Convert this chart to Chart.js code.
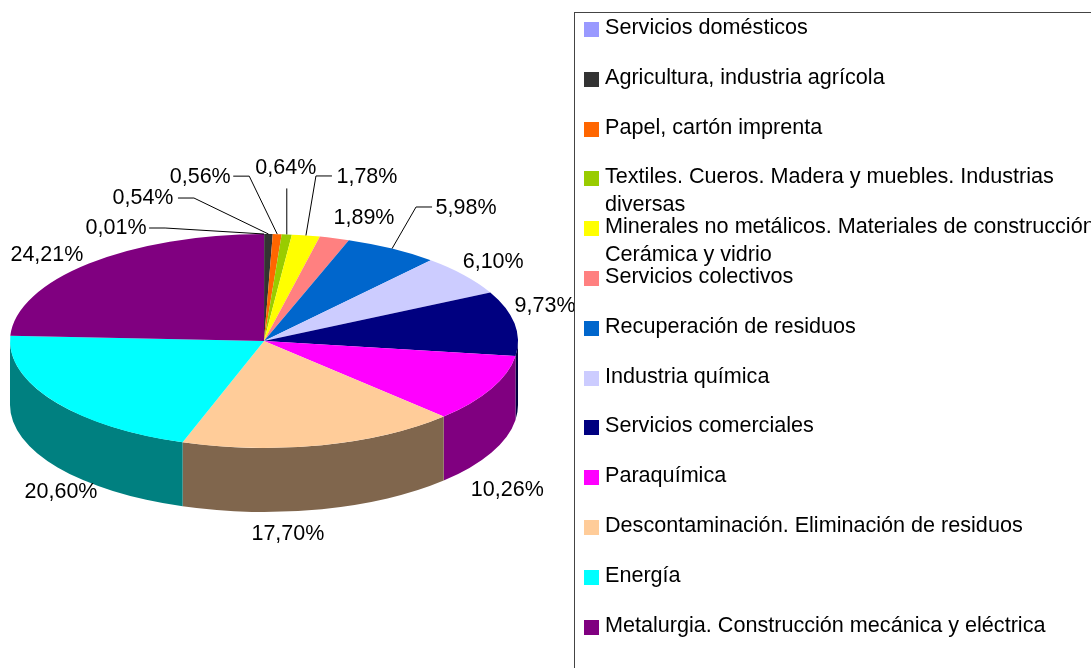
<!DOCTYPE html>
<html>
<head>
<meta charset="utf-8">
<script src="https://cdn.jsdelivr.net/npm/chart.js@4"></script>
<style>
    html, body { margin: 0; padding: 0; background: #fff; overflow: hidden; }
    #wrap { position: relative; width: 1091px; height: 668px; overflow: hidden; }
    #legendBox {
        position: absolute; left: 574px; top: 12px; width: 600px; height: 700px;
        border: 1px solid #444; box-sizing: border-box;
    }
    .row { position: absolute; left: 9px; white-space: nowrap; color: #000;
        font: 21.6px/28px "Liberation Sans", Arial, sans-serif; }
    .row i { position: absolute; left: 0; top: 9px; width: 15px; height: 15px; }
    .row span { display: block; margin-left: 21px; }
</style>
</head>
<body>
<div id="wrap">
    <canvas id="chart" width="1091" height="668"></canvas>
    <div id="legendBox"></div>
</div>
<script>
const categories = [
    'Servicios domésticos',
    'Agricultura, industria agrícola',
    'Papel, cartón imprenta',
    'Textiles. Cueros. Madera y muebles. Industrias\ndiversas',
    'Minerales no metálicos. Materiales de construcción.\nCerámica y vidrio',
    'Servicios colectivos',
    'Recuperación de residuos',
    'Industria química',
    'Servicios comerciales',
    'Paraquímica',
    'Descontaminación. Eliminación de residuos',
    'Energía',
    'Metalurgia. Construcción mecánica y eléctrica',
];
const shares = [0.01, 0.54, 0.56, 0.64, 1.78, 1.89, 5.98, 6.10, 9.73, 10.26, 17.70, 20.60, 24.21];
const colors = ['#9999FF', '#333333', '#FF6600', '#99CC00', '#FFFF00', '#FF8080', '#0066CC',
    '#CCCCFF', '#000080', '#FF00FF', '#FFCC99', '#00FFFF', '#800080'];
const sideColors = ['#4D4D80', '#1A1A1A', '#803300', '#4D6600', '#808000', '#804040', '#003366',
    '#666680', '#000040', '#800080', '#80664D', '#008080', '#400040'];

// label centre, relative to the point of the rim at the middle of the slice
const labelOffsets = [[-148, -6], [-125.5, -36], [-77, -57], [-1, -66], [61, -58.5], [29.5, -20],
    [74, -40.6], [29, -13], [30.5, -17], [16, 101], [-34, 89], [7, 91], [-42, -8.5]];
// leader lines: rim -> elbow -> end at the label, same reference point
const leaders = [
    [[-99, -6], [-115, -6]],
    [[-74.5, -36], [-90.5, -36]],
    [[-28, -58], [-44, -58]],
    [[0, -46], [0, -46]],
    [[10, -59.5], [26, -59.5]],
    null,
    [[24, -41.6], [40, -41.6]],
    null, null, null, null, null, null,
];

const SQUASH = 107 / 254;
const DEPTH = 64;
const FONT = '21.5px "Liberation Sans", Arial, sans-serif';

function flatten(ctx, x, y) {
    ctx.translate(x, y);
    ctx.scale(1, SQUASH);
    ctx.translate(-x, -y);
}

const pie3d = {
    id: 'pie3d',
    beforeDatasetsDraw(chart) {
        const ctx = chart.ctx;
        const arcs = chart.getDatasetMeta(0).data;
        const { x, y, outerRadius } = arcs[0];
        const ry = outerRadius * SQUASH;
        // side wall: only what is on the front half of the ellipse
        ctx.save();
        arcs.forEach((arc, i) => {
            const from = Math.max(arc.startAngle, 0);
            const to = Math.min(arc.endAngle, Math.PI);
            if (to <= from) return;
            ctx.beginPath();
            ctx.ellipse(x, y, outerRadius, ry, 0, from, to);
            ctx.ellipse(x, y + DEPTH, outerRadius, ry, 0, to, from, true);
            ctx.closePath();
            ctx.fillStyle = sideColors[i];
            ctx.fill();
        });
        ctx.restore();
        ctx.save();
        flatten(ctx, x, y);
    },
    afterDatasetsDraw(chart) {
        const ctx = chart.ctx;
        ctx.restore();
        const arcs = chart.getDatasetMeta(0).data;
        ctx.save();
        ctx.font = FONT;
        ctx.fillStyle = '#000';
        ctx.strokeStyle = '#000';
        ctx.lineWidth = 1;
        ctx.textAlign = 'center';
        ctx.textBaseline = 'middle';
        arcs.forEach((arc, i) => {
            const mid = (arc.startAngle + arc.endAngle) / 2;
            const ax = arc.x + arc.outerRadius * Math.cos(mid);
            const ay = arc.y + arc.outerRadius * SQUASH * Math.sin(mid);
            if (leaders[i]) {
                ctx.beginPath();
                ctx.moveTo(ax, ay);
                leaders[i].forEach(p => ctx.lineTo(ax + p[0], ay + p[1]));
                ctx.stroke();
            }
            const text = shares[i].toFixed(2).replace('.', ',') + '%';
            ctx.fillText(text, ax + labelOffsets[i][0], ay + labelOffsets[i][1]);
        });
        ctx.restore();
    },
};

new Chart(document.getElementById('chart'), {
    type: 'pie',
    data: {
        labels: categories.map(c => c.replace('\n', ' ')),
        datasets: [{ data: shares, backgroundColor: colors, borderWidth: 0 }],
    },
    options: {
        responsive: false,
        animation: false,
        layout: { padding: { left: 10, right: 573, top: 87, bottom: 73 } },
        plugins: { legend: { display: false }, tooltip: { enabled: false } },
    },
    plugins: [pie3d],
});

const legendBox = document.getElementById('legendBox');
categories.forEach((name, i) => {
    const row = document.createElement('div');
    row.className = 'row';
    row.style.top = (i * 49.8) + 'px';
    const swatch = document.createElement('i');
    swatch.style.background = colors[i];
    const text = document.createElement('span');
    text.innerHTML = name.replace('\n', '<br>');
    row.appendChild(swatch);
    row.appendChild(text);
    legendBox.appendChild(row);
});
</script>
</body>
</html>
